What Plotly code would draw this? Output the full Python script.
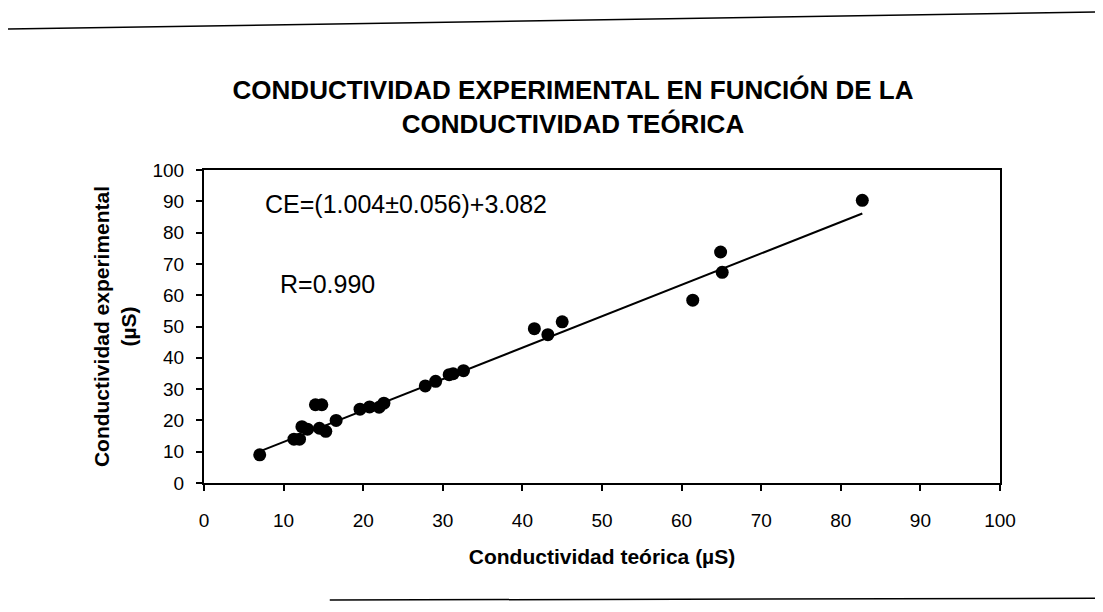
import plotly.graph_objects as go
import numpy as np

# Data (µS)
cond_teorica = [7.0, 11.3, 12.0, 12.3, 13.0, 14.0, 14.8, 14.5, 15.3, 16.6,
                19.6, 20.8, 22.0, 22.6, 27.8, 29.1, 30.8, 31.3, 32.6,
                41.5, 43.2, 45.0, 61.4, 64.9, 65.1, 82.7]
cond_experimental = [9.0, 14.0, 14.0, 18.0, 17.2, 25.0, 25.0, 17.5, 16.5, 20.0,
                     23.6, 24.3, 24.2, 25.5, 31.0, 32.5, 34.6, 34.9, 35.9,
                     49.3, 47.4, 51.5, 58.4, 73.8, 67.3, 90.3]

fit_slope = 1.004
fit_intercept = 3.082

x_ticks = [0, 10, 20, 30, 40, 50, 60, 70, 80, 90, 100]
y_ticks = [0, 10, 20, 30, 40, 50, 60, 70, 80, 90, 100]

title_text = "CONDUCTIVIDAD EXPERIMENTAL EN FUNCIÓN DE LA<br>CONDUCTIVIDAD TEÓRICA"
x_title = "Conductividad teórica (µS)"
y_title = "Conductividad experimental<br>(µS)"
eq_text = "CE=(1.004±0.056)+3.082"
r_text = "R=0.990"

FONT = "Liberation Sans, Arial, sans-serif"

fit_x = np.array([min(cond_teorica), max(cond_teorica)])
fit_y = fit_slope * fit_x + fit_intercept

fig = go.Figure()
fig.add_trace(go.Scatter(x=fit_x, y=fit_y, mode="lines",
                         line=dict(color="black", width=2), showlegend=False,
                         hoverinfo="skip"))
fig.add_trace(go.Scatter(x=cond_teorica, y=cond_experimental, mode="markers",
                         marker=dict(color="black", size=13), showlegend=False))

fig.update_layout(
    width=1095, height=604,
    paper_bgcolor="white", plot_bgcolor="white",
    margin=dict(l=196, r=103, t=162, b=129, autoexpand=False),
    font=dict(family=FONT, color="black"),
    title=dict(text="<b>" + title_text + "</b>", x=0.516, xanchor="center",
               y=0.849, yanchor="middle", font=dict(size=26, family=FONT)),
    xaxis=dict(range=[0, 100], tickvals=x_ticks, ticks="outside", ticklen=6,
               tickwidth=1.5, tickcolor="black", showline=True, linecolor="black",
               linewidth=2, mirror=True, showgrid=False, zeroline=False,
               tickfont=dict(size=19), ticklabelstandoff=13,
               title=dict(text="<b>" + x_title + "</b>", font=dict(size=21), standoff=20)),
    yaxis=dict(range=[0, 100], tickvals=y_ticks, ticks="outside", ticklen=6,
               tickwidth=1.5, tickcolor="black", showline=True, linecolor="black",
               linewidth=2, mirror=True, showgrid=False, zeroline=False,
               tickfont=dict(size=19), ticklabelstandoff=8,
               title=dict(text="<b>" + y_title + "</b>", font=dict(size=21), standoff=10)),
    annotations=[
        dict(text=eq_text, x=7.4, y=89.0, xref="x", yref="y", xanchor="left",
             yanchor="middle", showarrow=False, font=dict(size=25)),
        dict(text=r_text, x=9.3, y=63.5, xref="x", yref="y", xanchor="left",
             yanchor="middle", showarrow=False, font=dict(size=25)),
    ],
    shapes=[
        dict(type="line", xref="paper", yref="paper", x0=-0.256, x1=1.129,
             y0=1.45, y1=1.505, line=dict(color="black", width=1.5)),
        dict(type="line", xref="paper", yref="paper", x0=0.158, x1=1.129,
             y0=-0.374, y1=-0.368, line=dict(color="black", width=1.5)),
    ],
)

fig.write_html("out.html")
